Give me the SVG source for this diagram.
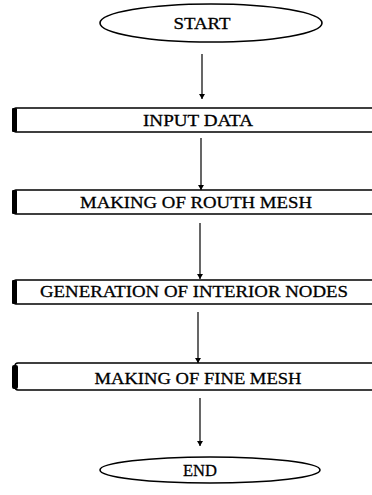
<svg xmlns="http://www.w3.org/2000/svg" width="372" height="495" viewBox="0 0 372 495">
<style>
.term{fill:#fff;stroke:#000;stroke-width:1.6}
.box{fill:#fff;stroke:#000;stroke-width:1.4}
.bar{fill:#000}
.lbl{font-family:"Liberation Serif","Times New Roman",serif;font-size:17px;fill:#000;stroke:#000;stroke-width:0.3;text-anchor:middle}
.conn{stroke:#000;stroke-width:1.2;fill:none;marker-end:url(#ah)}
</style>
<defs>
<marker id="ah" markerWidth="6" markerHeight="6" refX="5" refY="3" orient="auto" markerUnits="userSpaceOnUse">
<path d="M0,0 L5,3 L0,6 Z" fill="#000"/>
</marker>
</defs>
<rect width="372" height="495" fill="#fff"/>
<g id="connectors">
<line class="conn" x1="202" y1="54" x2="202" y2="99"/>
<line class="conn" x1="201" y1="138" x2="201" y2="190"/>
<line class="conn" x1="200" y1="223" x2="200" y2="279"/>
<line class="conn" x1="198" y1="312" x2="198" y2="363"/>
<line class="conn" x1="200" y1="398" x2="200" y2="446"/>
</g>
<g id="start">
<ellipse class="term" cx="211" cy="23" rx="111" ry="19"/>
<text class="lbl" x="202" y="29" textLength="57" lengthAdjust="spacingAndGlyphs">START</text>
</g>
<g id="input">
<rect class="box" x="14" y="108" width="380" height="24" rx="2"/>
<rect class="bar" x="12" y="108" width="5" height="24" rx="1"/>
<text class="lbl" x="198" y="126" textLength="110" lengthAdjust="spacingAndGlyphs">INPUT DATA</text>
</g>
<g id="rough">
<rect class="box" x="14" y="190" width="380" height="24" rx="2"/>
<rect class="bar" x="12" y="190" width="5" height="24" rx="1"/>
<text class="lbl" x="196" y="208" textLength="232" lengthAdjust="spacingAndGlyphs">MAKING OF ROUTH MESH</text>
</g>
<g id="interior">
<rect class="box" x="14" y="280" width="380" height="24" rx="2"/>
<rect class="bar" x="12" y="280" width="5" height="24" rx="1"/>
<text class="lbl" x="194" y="297" textLength="308" lengthAdjust="spacingAndGlyphs">GENERATION OF INTERIOR NODES</text>
</g>
<g id="fine">
<rect class="box" x="15" y="363" width="380" height="27" rx="3"/>
<rect class="bar" x="12" y="365" width="6" height="24" rx="2"/>
<text class="lbl" x="198" y="384" textLength="207" lengthAdjust="spacingAndGlyphs">MAKING OF FINE MESH</text>
</g>
<g id="end">
<ellipse class="term" cx="210" cy="470" rx="110" ry="13"/>
<text class="lbl" x="200" y="476" textLength="34" lengthAdjust="spacingAndGlyphs">END</text>
</g>
</svg>
